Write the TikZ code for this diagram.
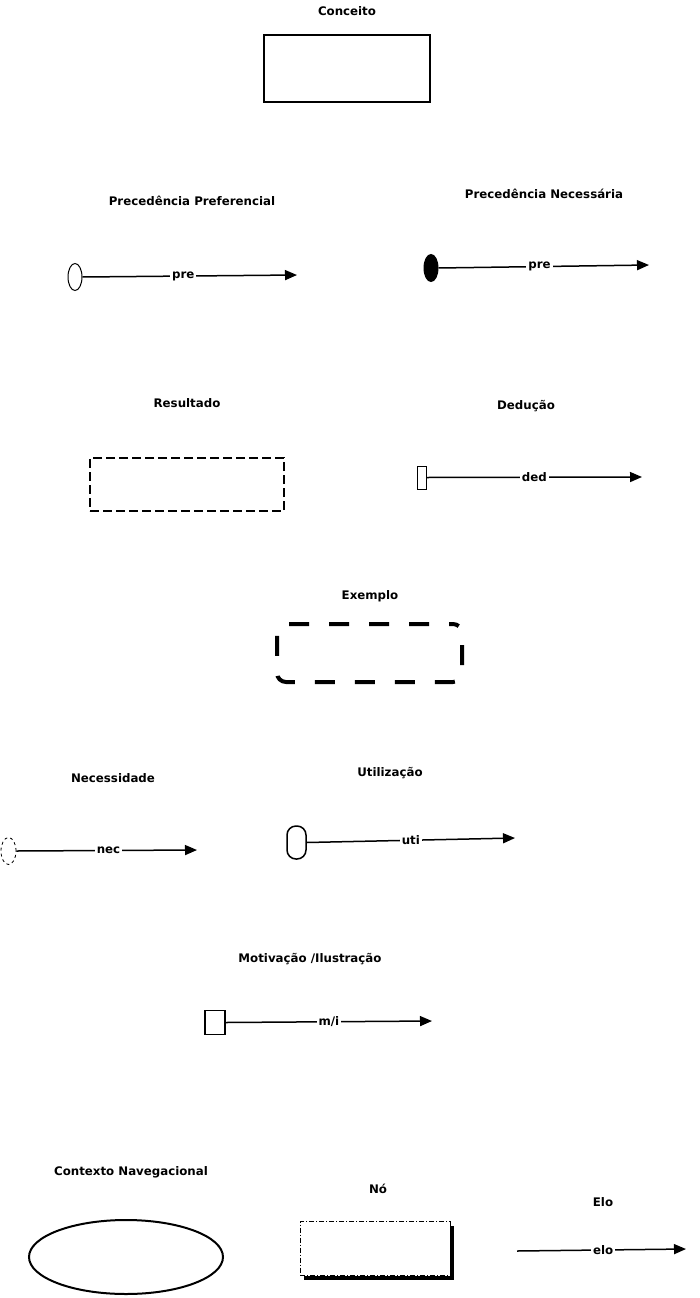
\documentclass[tikz,border=0pt]{standalone}
\usepackage{fontspec}
\setmainfont{DejaVu Sans}
\usetikzlibrary{arrows.meta, shapes.geometric, shadows}

\begin{document}
\begin{tikzpicture}[x=1pt, y=-1pt,
  title/.style={font=\fontsize{11.8}{13}\selectfont\bfseries, inner sep=1pt},
  rel/.style={line width=1.5pt, -{Triangle[length=12pt, width=10pt]}},
  rlabel/.style={font=\fontsize{11.8}{13}\selectfont\bfseries, fill=white,
    inner sep=2pt},
  origin/.style={draw, inner sep=0pt, line width=1pt}]
  \useasboundingbox (0,0) rectangle (699,1298);

  % conceito
  \node[title] (tConceito) at (347,11) {Conceito};
  \node[draw, line width=2pt, minimum width=166pt, minimum height=67pt,
    inner sep=0pt] (conceito) at (347,68.5) {};

  % precedencias
  \node[title] (tPrecPref) at (192,201) {Precedência Preferencial};
  \node[origin, ellipse, minimum width=14pt, minimum height=27pt]
    (ppOrig) at (75,277) {};
  \coordinate (ppEnd) at (297,275);
  \draw[rel] (ppOrig.east) -- node[rlabel, pos=0.47] {pre} (ppEnd);

  \node[title] (tPrecNec) at (544,194) {Precedência Necessária};
  \node[origin, ellipse, fill=black, minimum width=14pt, minimum height=27pt]
    (pnOrig) at (431,268) {};
  \coordinate (pnEnd) at (649,265);
  \draw[rel] (pnOrig.east) -- node[rlabel, pos=0.48] {pre} (pnEnd);

  % resultado / deducao
  \node[title] (tResultado) at (187,403) {Resultado};
  \node[draw, line width=2pt, dash pattern=on 9pt off 4pt,
    minimum width=194pt, minimum height=53pt, inner sep=0pt]
    (resultado) at (187,484.5) {};

  \node[title] (tDeducao) at (526,406) {Dedução};
  \node[origin, minimum width=9pt, minimum height=23pt]
    (dedOrig) at (421.5,477.5) {};
  \coordinate (dedEnd) at (642,477);
  \draw[rel] (dedOrig.east) -- node[rlabel] {ded} (dedEnd);

  % exemplo
  \node[title] (tExemplo) at (370,596) {Exemplo};
  \node[draw, line width=4pt, dash pattern=on 20pt off 20pt, dash phase=16pt,
    rounded corners=9pt, minimum width=185pt, minimum height=58pt,
    inner sep=0pt] (exemplo) at (369.5,653) {};

  % necessidade / utilizacao
  \node[title] (tNecessidade) at (113,778) {Necessidade};
  \node[origin, ellipse, dashed, line width=0.8pt, minimum width=15pt,
    minimum height=27pt] (necOrig) at (8.5,851) {};
  \coordinate (necEnd) at (197,850);
  \draw[rel] (necOrig.east) -- node[rlabel, pos=0.51] {nec} (necEnd);

  \node[title] (tUtilizacao) at (390,773) {Utilização};
  \node[origin, line width=1.5pt, rounded corners=9pt, minimum width=19pt,
    minimum height=33pt] (utiOrig) at (296.5,842.5) {};
  \coordinate (utiEnd) at (515,838);
  \draw[rel] (utiOrig.east) -- node[rlabel] {uti} (utiEnd);

  % motivacao
  \node[title] (tMotivacao) at (310,959) {Motivação /Ilustração};
  \node[origin, line width=1.5pt, minimum width=20pt, minimum height=24pt]
    (miOrig) at (215,1022.5) {};
  \coordinate (miEnd) at (432,1021);
  \draw[rel] (miOrig.east) -- node[rlabel] {m/i} (miEnd);

  % contexto, no, elo
  \node[title] (tContexto) at (131,1172) {Contexto Navegacional};
  \node[draw, ellipse, line width=2pt, minimum width=194pt,
    minimum height=74pt, inner sep=0pt] (contexto) at (126,1257) {};

  \node[title] (tNo) at (378,1189) {Nó};
  \node[draw, fill=white, line width=0.8pt,
    dash pattern=on 5pt off 2pt on 1pt off 2pt,
    drop shadow={shadow xshift=4pt, shadow yshift=-4pt, fill=black,
      opacity=1},
    minimum width=150pt, minimum height=54pt, inner sep=0pt]
    (no) at (375,1248.5) {};

  \node[title] (tElo) at (603,1202) {Elo};
  \coordinate (eloStart) at (517,1251);
  \coordinate (eloEnd) at (686,1249);
  \draw[rel] (eloStart) -- node[rlabel, pos=0.51] {elo} (eloEnd);
\end{tikzpicture}
\end{document}
